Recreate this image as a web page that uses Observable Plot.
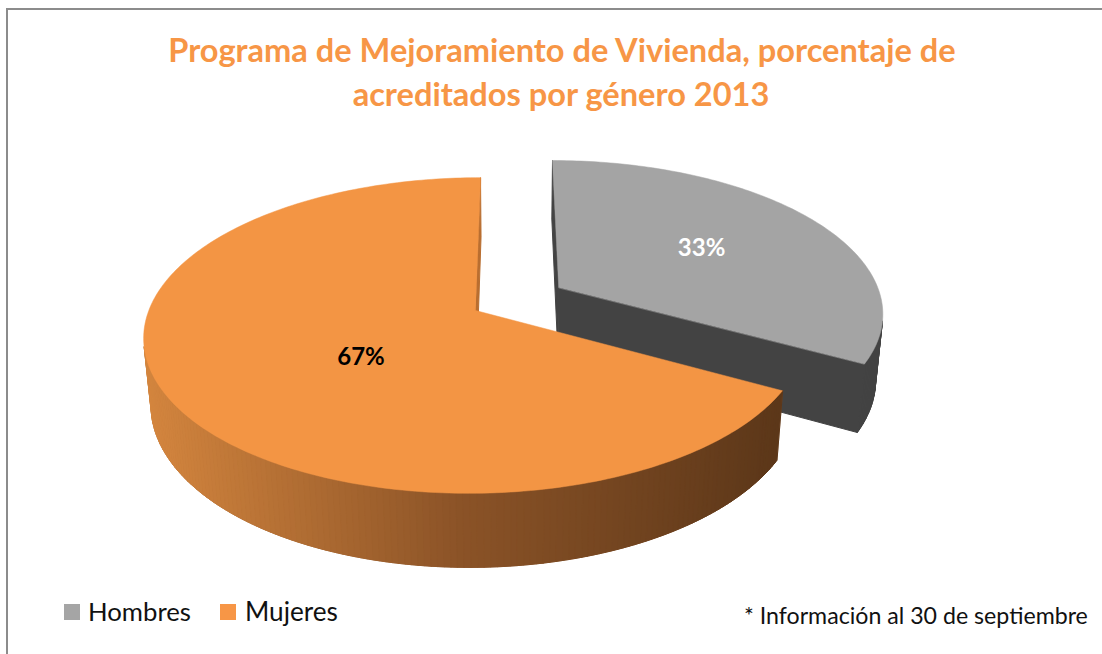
<!DOCTYPE html>
<html>
<head>
<meta charset="utf-8">
<script src="https://cdn.jsdelivr.net/npm/d3@7"></script>
<script src="https://cdn.jsdelivr.net/npm/@observablehq/plot@0.6"></script>
<style>
  html, body { margin: 0; padding: 0; background: #fff; }
  body { width: 1102px; height: 654px; overflow: hidden; position: relative; font-family: Lato, "Open Sans", sans-serif; }
  #frame { position: absolute; left: 6px; top: 8px; width: 1200px; height: 800px;
           border-left: 2px solid #8c8c8c; border-top: 2px solid #8c8c8c; box-sizing: border-box; }
  .txt { position: absolute; top: 0; left: 0; white-space: nowrap; line-height: 1; }
  #chart { position: absolute; left: 0; top: 120px; }
  .sw { position: absolute; }
</style>
</head>
<body>
<div id="frame"></div>
<div id="chart"></div>
<script>
// ---------------- data ----------------
const categories = ["Hombres", "Mujeres"];
const values = [33, 67];
const labels = ["33%", "67%"];
const titleLines = ["Programa de Mejoramiento de Vivienda, porcentaje de", "acreditados por género 2013"];
const caption = "* Información al 30 de septiembre";

// ---------------- styles ----------------
const topColor = {Hombres: "#a4a4a4", Mujeres: "#f39544"};
const legendColor = {Hombres: "#a5a5a5", Mujeres: "#f79646"};
const labelColor = {Hombres: "#ffffff", Mujeres: "#000000"};
const explode = {Hombres: 0.30, Mujeres: 0};
const labelRadius = {Hombres: 0.55, Mujeres: 0.44};
const labelShift = {Hombres: 0, Mujeres: -11};
const grayWall = "#434343";
const orangeFace = "#b96e30";
const orangeWall = d3.scaleLinear().domain([140, 460, 775])
  .range(["#d6873f", "#8b5327", "#5c3719"]).clamp(true);

// ---------------- perspective camera ----------------
const u0 = 511.6, v0 = 310, F = 1820.7, D = 5.573, xo = 0.112, H = 0.234;
const alpha = 28.1 * Math.PI / 180, s = Math.sin(alpha), c = Math.cos(alpha);
const cam = [xo, D * c, D * s];
const depth = (P) => D - (P[1] * c + P[2] * s);
const proj = (P) => { const w = depth(P); return [u0 + F * (P[0] - xo) / w, v0 - F * (P[2] * c - P[1] * s) / w]; };
const rad = (a) => a * Math.PI / 180;
const rim = (off, a, r, z) => [off[0] + r * Math.sin(rad(a)), off[1] - r * Math.cos(rad(a)), z];
const facing = (n, P) => n[0] * (cam[0] - P[0]) + n[1] * (cam[1] - P[1]) + n[2] * (cam[2] - P[2]) > 0;
const centroid = (pts) => pts.reduce((m, p) => [m[0] + p[0] / pts.length, m[1] + p[1] / pts.length, m[2] + p[2] / pts.length], [0, 0, 0]);

const total = d3.sum(values);
const rows = [];
const labelRows = [];
let pid = 0;
function addPoly(pts3, color, sw) {
  pid++;
  for (const P of pts3) { const [x, y] = proj(P); rows.push({id: pid, x, y, color, sw}); }
}

let acc = 0;
const slices = categories.map((cat, i) => {
  const a0 = acc / total * 360; acc += values[i]; const a1 = acc / total * 360;
  const mid = (a0 + a1) / 2;
  const off = [explode[cat] * Math.sin(rad(mid)), -explode[cat] * Math.cos(rad(mid))];
  return {cat, i, a0, a1, mid, off, center: [off[0], off[1], 0]};
});
// back to front
slices.sort((A, B) => depth(B.center) - depth(A.center));

for (const sl of slices) {
  const {cat, a0, a1, off} = sl;
  const faces = [];
  const n = Math.max(2, Math.round((a1 - a0) / 1));
  // rim wall quads (visible ones)
  const visible = [];
  for (let k = 0; k < n; k++) {
    const t0 = a0 + (a1 - a0) * k / n, t1 = a0 + (a1 - a0) * (k + 1) / n, tm = (t0 + t1) / 2;
    const quad = [rim(off, t0, 1, 0), rim(off, t1, 1, 0), rim(off, t1, 1, -H), rim(off, t0, 1, -H)];
    const nrm = [Math.sin(rad(tm)), -Math.cos(rad(tm)), 0];
    const C = centroid(quad);
    if (!facing(nrm, C)) continue;
    visible.push([t0, t1]);
    const col = cat === "Mujeres" ? orangeWall(proj(C)[0]) : grayWall;
    faces.push({pts: quad, color: col, d: depth(C)});
  }
  // one backing polygon under the strips, so that seams do not show white
  if (visible.length) {
    const ts = visible.map(v => v[0]).concat([visible[visible.length - 1][1]]);
    const back = ts.map(t => rim(off, t, 1, 0)).concat(ts.slice().reverse().map(t => rim(off, t, 1, -H)));
    const mc = cat === "Mujeres" ? orangeWall(460) : grayWall;
    addPoly(back, mc, 0.5);
  }
  // radial faces
  for (const [a, na] of [[a0, a0 - 90], [a1, a1 + 90]]) {
    const quad = [[off[0], off[1], 0], rim(off, a, 1, 0), rim(off, a, 1, -H), [off[0], off[1], -H]];
    const nrm = [Math.sin(rad(na)), -Math.cos(rad(na)), 0];
    const C = centroid(quad);
    if (!facing(nrm, C)) continue;
    faces.push({pts: quad, color: cat === "Mujeres" ? orangeFace : grayWall, d: depth(C)});
  }
  faces.sort((A, B) => B.d - A.d);
  for (const f of faces) addPoly(f.pts, f.color, 1);
  // top surface
  const top = [[off[0], off[1], 0]];
  for (let k = 0; k <= n; k++) top.push(rim(off, a0 + (a1 - a0) * k / n, 1, 0));
  addPoly(top, topColor[cat], 0.5);
  // label
  const la = sl.mid + labelShift[cat];
  const [lx, ly] = proj(rim(off, la, labelRadius[cat], 0));
  labelRows.push({x: lx, y: ly, text: labels[sl.i], color: labelColor[cat]});
}

const chart = Plot.plot({
  width: 1102,
  height: 470,
  margin: 0,
  style: {background: "transparent", overflow: "visible"},
  x: {domain: [0, 1102], range: [0, 1102], axis: null},
  y: {domain: [120, 590], range: [0, 470], axis: null},
  color: {type: "identity"},
  marks: [
    Plot.line(rows, {x: "x", y: "y", z: "id", fill: "color", stroke: "color", strokeWidth: "sw", curve: "linear-closed"}),
    Plot.text(labelRows, {x: "x", y: "y", text: "text", fill: "color", fontSize: 24, fontWeight: "bold", fontFamily: "Lato"})
  ]
});
document.getElementById("chart").appendChild(chart);

// ---------------- text placement helpers ----------------
function makeText(str, size, weight, color) {
  const el = document.createElement("div");
  el.className = "txt";
  el.textContent = str;
  el.style.fontSize = size + "px";
  el.style.fontWeight = weight;
  el.style.color = color;
  document.body.appendChild(el);
  return el;
}
function place(el, {x, anchor = "start", baseline, width}) {
  if (width) {
    const w = el.getBoundingClientRect().width;
    el.style.fontSize = (parseFloat(el.style.fontSize) * width / w) + "px";
  }
  const mk = document.createElement("span");
  mk.style.cssText = "display:inline-block;width:0;height:0;vertical-align:baseline";
  el.appendChild(mk);
  const r = el.getBoundingClientRect();
  const b = mk.getBoundingClientRect().bottom;
  el.style.top = (baseline - (b - r.top)) + "px";
  el.style.left = (anchor === "middle" ? x - r.width / 2 : x) + "px";
}

// title
const t1 = makeText(titleLines[0], 30, "bold", "#f79646");
place(t1, {x: 562, anchor: "middle", baseline: 62, width: 788});
const t2 = makeText(titleLines[1], parseFloat(t1.style.fontSize), "bold", "#f79646");
place(t2, {x: 561, anchor: "middle", baseline: 106});

// legend
const legendPos = {Hombres: {sq: 64, tx: 88, w: 103}, Mujeres: {sq: 220, tx: 245, w: 93}};
for (const cat of categories) {
  const p = legendPos[cat];
  const sq = document.createElement("div");
  sq.className = "sw";
  sq.style.cssText += `left:${p.sq}px;top:604px;width:16px;height:16px;background:${legendColor[cat]}`;
  document.body.appendChild(sq);
  const t = makeText(cat, 22, "normal", "#111");
  place(t, {x: p.tx, baseline: 621, width: p.w});
}

// caption
const cap = makeText(caption, 19, "normal", "#111");
place(cap, {x: 744, baseline: 624, width: 344});
</script>
</body>
</html>
